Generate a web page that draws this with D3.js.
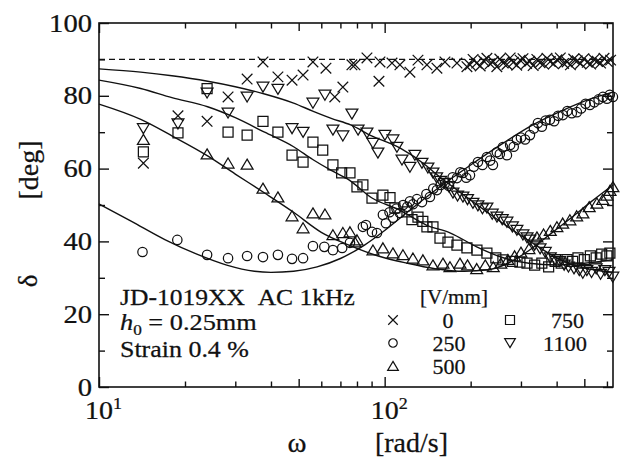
<!DOCTYPE html>
<html>
<head>
<meta charset="utf-8">
<script src="https://cdn.jsdelivr.net/npm/d3@7"></script>
<style>
  body { margin: 0; background: #fff; }
  svg { display: block; }
  text { font-family: "Liberation Serif", "Times New Roman", serif; fill: #111; white-space: pre; stroke: #111; stroke-width: 0.25; }
</style>
</head>
<body>
<svg id="chart" width="621" height="461"></svg>
<script>
// [omega (rad/s), delta (deg)]
const field0 = [
  [14.3,61.5],[18.9,74.5],[23.9,73],[28.3,79.7],[33,84.6],[37.5,89.3],[42.3,85.2],[47.4,84.3],
  [51.8,85.7],[56.1,89.3],[62.3,87.6],[66.9,79.7],[71.4,82.4],[76.8,88.5],[78.7,88.5],[86.7,90.4],
  [95.5,84],[96.3,89.3],[106.1,89],[113.1,88.5],[122.6,86.5],[130.8,89.8],[140.6,88.5],[152.4,87.6],
  [162.6,89.3],[179.1,89],[194.1,88],
  [199,88.5],[204,90],[210,89],[216,88.2],[222,89.6],[228,90.3],[234,88.8],[240,89.4],[247,88],
  [253,90.1],[260,89],[268,88.6],[275,90.4],[282,89.2],[290,88.4],[298,89.8],[305,90.2],[314,88.9],
  [322,89.5],[331,88.3],[341,90],[350,89.1],[360,88.7],[370,90.3],[380,89.4],[390,88.8],[401,89.9],
  [412,90.4],[423,88.9],[435,89.3],[447,88.5],[459,90.1],[472,89.6],[485,88.9],[498,90.2],[512,89.2],
  [526,88.7],[540,90],[555,89.5],[570,89],[586,90.3],[602,89.4],[618,89.8]
];
const field250 = [
  [14.2,37.1],[18.8,40.4],[23.9,36.3],[28.3,35.4],[33,36],[37.5,35.7],[42.3,36.3],[47.4,35.2],
  [51.8,35.4],[56.1,38.7],[61.5,38.5],[65.9,37.6],[71,38.2],[75.6,39.6],[83.9,44],[86,44.5],
  [90.3,42.6],[94,42.3],[98.6,47.3],[101,45],[104,48],[107,46.5],[110,49],[113,47.8],[116,50],
  [120,49.5],[122.6,51],[125.6,50.2],[129.7,51.6],[135.1,50.8],[140,53],[144,52.2],[148,54.5],
  [152.4,54.1],[157,55.5],[162.6,56],[168,55.2],[173,57.6],[179.1,57.4],[184,59],[187.9,58.8],
  [193,57.5],[198.9,58.2],[205,60.5],[212.1,61.8],[220,61],[228,63.2],[234,62.2],[239.3,61],
  [247,64.5],[253,64],[259.4,65.9],[267.9,63.7],[275,66.5],[283,66],[290.4,67.9],[300,68.5],
  [310,68],[322.5,69.2],[333,71],[344,72.5],[355,71.5],[366,73.2],[378.9,73.4],[392,73],
  [405,74.5],[420.7,74.7],[436,75.8],[452,75.2],[470.9,75.5],[487,76.5],[505,77.8],[523,77.5],
  [542,78.2],[561,79],[580.8,79.7],[600,79.2],[614,80.3],[629.5,79.7]
];
const field500 = [
  [14.3,68],[23.9,64],[28.3,61.5],[33,61.2],[37.5,54.6],[42.3,52.2],[47.4,47],[51.8,43.7],
  [56.1,47.8],[61.8,47.5],[65.9,41.8],[71.4,42.4],[75.6,42.6],[78.7,39.8],[80,40.4],[91,37.6],
  [98.6,38.2],[106.9,36.8],[115.9,36.3],[125.6,35.4],[136.1,34.9],[147.6,33.5],[160,34],[169.3,33],
  [183.5,34],[195,33.5],[210,32.5],[225,33.5],[240,33],[255,34],[270,35],[285,36],[300,37],
  [320,38],[341.2,41.2],[360,42],[380,43],[400.9,44],[420,45],[445.1,45.9],[470,47],[494.3,47.8],
  [520,49.5],[553.4,50.5],[580,51.5],[599.8,52.7],[615,54],[629.5,55]
];
const field750 = [
  [14.3,64.6],[18.9,69.8],[23.9,82],[28.3,70],[33,69.2],[37.5,73],[42.3,70],[47.4,63.7],
  [51.8,61.8],[56.1,67.3],[60.7,65.1],[65.9,61],[70.7,58.8],[75.6,58.8],[80,55],[83.9,55.5],
  [90.3,51.9],[98.6,52.7],[104.4,52],[108.6,49.2],[119.7,48.1],[124.6,46],[130.8,46.7],[136,45.5],
  [140.6,44],[147.6,44],[156.2,40.9],[166.6,39.8],[179.1,39],[194.1,38.2],[210.4,37.6],[228,36.8],
  [245,35.5],[259.4,34.9],[280,34.5],[297.5,34.3],[315,34],[335,33.5],[355,34],[375,33],[395,34.5],
  [415,34],[435,35],[455,34.5],[475,35.5],[500,35],[525,36],[550,35.5],[575,36.5],[600,36],[614.4,36.8]
];
const field1100 = [
  [14.3,71],[18.9,72.3],[23.9,80.8],[28.3,75.3],[33,79.7],[37.5,82.4],[42.3,81.8],[47.4,71],
  [51.8,70],[56.1,78],[61.8,80.2],[65.9,70.6],[71.4,69],[76.8,75],[80.7,70.6],[86.7,69.8],
  [91,67],[94.7,64.3],[100.2,69.2],[106.9,67.9],[110.4,65.9],[115,62.4],[122.6,60.4],[127.6,63.7],
  [135.1,61.5],[141.7,60.2],[147.6,58.8],[152,57.5],[157,56.5],[162,56],[168,55],[173.4,53.3],
  [180,52.5],[187.9,52.2],[195,51.5],[203.7,50.5],[212,49.8],[220,49],[228,49.2],[238,47.5],
  [247.2,46.7],[258,46],[267.9,45.3],[280,44],[290.4,43.1],[304.8,41.8],[315,41],[322.5,40.4],
  [335,39],[350,38],[365,37],[380,35.5],[395,35],[410,34.5],[425,33.5],[440,33],[460,32.5],
  [480,32],[494,31.3],[510,32],[530,31.5],[550,32.5],[570,31],[590,32],[610,31.5],[629,30.2]
];

// model curves
const model250 = [[10,50.3],[13,45.5],[17,40.5],[22,36.5],[28,33.5],[35,31.8],[40,31.5],[48,31.8],
  [58,33],[70,35.3],[85,39],[100,43],[120,48],[150,54],[200,61],[260,67],[330,72],[420,76],[520,79],[630,81]];
const model500 = [[10,77.7],[14,73.5],[18,69],[24,63.5],[30,58.5],[38,53.3],[48,48],[60,42.5],
  [75,39],[95,36],[120,34],[150,32.5],[190,31.8],[230,32.2],[270,34],[320,37.5],[380,42],[450,46.5],[530,51],[630,55.5]];
const model750 = [[10,84.3],[14,82],[18,79.5],[24,77],[30,74],[38,70],[48,66],[56,62.5],[65,59.5],
  [75,56.9],[90,52],[113,48.6],[140,44.5],[170,42.3],[210,38.5],[260,35.5],[320,34],[400,33.5],[500,34],[630,35]];
const model1100 = [[10,87.4],[14,86.5],[18,85.5],[24,84],[30,82.5],[38,80.5],[48,78],[56,75.8],
  [65,73.8],[76,72],[90,69],[113,65.7],[140,60.8],[150,58.8],[180,54],[220,49],[270,44],[330,39.5],
  [400,35.5],[480,33],[560,32],[630,31.5]];

const asymptote = 90;
const xMajor = [10, 100];
const xMid = [50, 500];
const xMinor = [20, 30, 40, 60, 70, 80, 90, 200, 300, 400, 600];
const yMajor = [0, 20, 40, 60, 80, 100];
const yMinor = [10, 30, 50, 70, 90];
const legendTitle = '[V/mm]';

const svg = d3.select('#chart');
const x = d3.scaleLog().domain([10, 630]).range([99, 613]);
const y = d3.scaleLinear().domain([0, 100]).range([387, 23]);
const ink = '#111';

// text helper: squeeze/stretch to a measured width
function label(parent, px, py, parts, opts) {
  const t = parent.append('text')
    .attr('font-size', opts.size)
    .attr('text-anchor', opts.anchor || 'start');
  parts.forEach(p => {
    const ts = t.append('tspan').text(p.t);
    if (p.size) ts.attr('font-size', p.size);
    if (p.dy) ts.attr('dy', p.dy);
    if (p.italic) ts.attr('font-style', 'italic');
  });
  const sx = opts.w ? opts.w / t.node().getBBox().width : 1;
  const rot = opts.rotate ? ` rotate(${opts.rotate})` : '';
  t.attr('transform', `translate(${px},${py})${rot} scale(${sx},1)`);
  return t;
}

// axes: inward ticks on all four sides
function ticks(axisFn, scale, vals, len, tr) {
  const g = svg.append('g').attr('transform', tr)
    .call(axisFn(scale).tickValues(vals).tickSize(-len).tickFormat(''));
  g.select('.domain').remove();
  g.selectAll('line').attr('stroke', ink).attr('stroke-width', 1.4);
}
[[xMajor, 10], [xMid, 8], [xMinor, 5.5]].forEach(([v, l]) => {
  ticks(d3.axisBottom, x, v, l, 'translate(0,387)');
  ticks(d3.axisTop, x, v, l, 'translate(0,23)');
});
[[yMajor, 10], [yMinor, 6]].forEach(([v, l]) => {
  ticks(d3.axisLeft, y, v, l, 'translate(99,0)');
  ticks(d3.axisRight, y, v, l, 'translate(613,0)');
});
svg.append('rect')
  .attr('x', x.range()[0]).attr('y', y.range()[1])
  .attr('width', x.range()[1] - x.range()[0]).attr('height', y.range()[0] - y.range()[1])
  .attr('fill', 'none').attr('stroke', ink).attr('stroke-width', 1.6);

// tick labels
yMajor.forEach(v => {
  const s = String(v);
  label(svg, 92, y(v) + 8.5, [{ t: s }], { size: 25, anchor: 'end', w: 14.3 * s.length });
});
xMajor.forEach((v, i) => {
  label(svg, x(v) - 14, 419, [{ t: '10' }], { size: 25, w: 28 });
  label(svg, x(v) + 14, 409, [{ t: String(i + 1) }], { size: 17, w: 9 });
});

// axis titles
label(svg, 297, 452, [{ t: 'ω' }], { size: 27, anchor: 'middle', w: 19 });
label(svg, 375, 452, [{ t: '[rad/s]' }], { size: 27, w: 73 });
label(svg, 38, 170, [{ t: '[deg]' }], { size: 28, anchor: 'middle', rotate: -90 });
label(svg, 37, 281, [{ t: 'δ' }], { size: 27, anchor: 'middle', rotate: -90 });

// dashed 90 deg line
svg.append('line')
  .attr('x1', x(10)).attr('x2', x(630))
  .attr('y1', y(asymptote)).attr('y2', y(asymptote))
  .attr('stroke', ink).attr('stroke-width', 1.2).attr('stroke-dasharray', '6,4');

// model curves
const line = d3.line().x(d => x(d[0])).y(d => y(d[1])).curve(d3.curveMonotoneX);
[model250, model500, model750, model1100].forEach(m => {
  svg.append('path').attr('d', line(m))
    .attr('fill', 'none').attr('stroke', ink).attr('stroke-width', 1.4);
});

// marker shapes
const shapes = {
  cross: s => `M${-s},${-s}L${s},${s}M${-s},${s}L${s},${-s}`,
  circle: s => `M${s},0A${s},${s} 0 1,1 ${-s},0A${s},${s} 0 1,1 ${s},0Z`,
  up: s => `M0,${-s * 0.95}L${s * 1.1},${s * 0.9}L${-s * 1.1},${s * 0.9}Z`,
  down: s => `M0,${s * 0.95}L${s * 1.1},${-s * 0.9}L${-s * 1.1},${-s * 0.9}Z`,
  square: s => `M${-s},${-s}H${s}V${s}H${-s}Z`
};
const series = [
  { data: field0, shape: 'cross', size: 5.3, name: '0' },
  { data: field250, shape: 'circle', size: 4.7, name: '250' },
  { data: field500, shape: 'up', size: 5.4, name: '500' },
  { data: field750, shape: 'square', size: 5, name: '750' },
  { data: field1100, shape: 'down', size: 5.4, name: '1100' }
];
series.forEach(s => {
  svg.append('g').selectAll('path')
    .data(s.data)
    .enter().append('path')
    .attr('d', shapes[s.shape](s.size))
    .attr('transform', d => `translate(${x(d[0])},${y(d[1])})`)
    .attr('fill', 'none').attr('stroke', ink).attr('stroke-width', 1.25);
});

// annotation
const note = svg.append('g');
label(note, 120, 305, [{ t: 'JD-1019XX\u00a0\u00a0AC 1kHz' }], { size: 23, w: 235 });
label(note, 120, 330, [
  { t: 'h', italic: true },
  { t: '0', size: 15, dy: 5 },
  { t: ' = 0.25mm', dy: -5 }
], { size: 23, w: 137 });
label(note, 120, 357, [{ t: 'Strain 0.4 %' }], { size: 23, w: 129 });

// legend
const leg = svg.append('g');
label(leg, 420, 304, [{ t: legendTitle }], { size: 20, w: 68 });
const legPos = [
  { sx: 393, sy: 320, tx: 448, ty: 328, anchor: 'middle' },
  { sx: 393, sy: 343, tx: 449, ty: 351, anchor: 'middle' },
  { sx: 393, sy: 366, tx: 449, ty: 374, anchor: 'middle' },
  { sx: 510, sy: 320, tx: 584, ty: 328, anchor: 'end' },
  { sx: 510, sy: 343, tx: 587, ty: 351, anchor: 'end' }
];
series.forEach((s, i) => {
  const p = legPos[i];
  leg.append('path')
    .attr('d', shapes[s.shape](s.size * 0.9))
    .attr('transform', `translate(${p.sx},${p.sy})`)
    .attr('fill', 'none').attr('stroke', ink).attr('stroke-width', 1.2);
  label(leg, p.tx, p.ty, [{ t: s.name }], { size: 21, anchor: p.anchor, w: s.name.length * 11 });
});
</script>
</body>
</html>
